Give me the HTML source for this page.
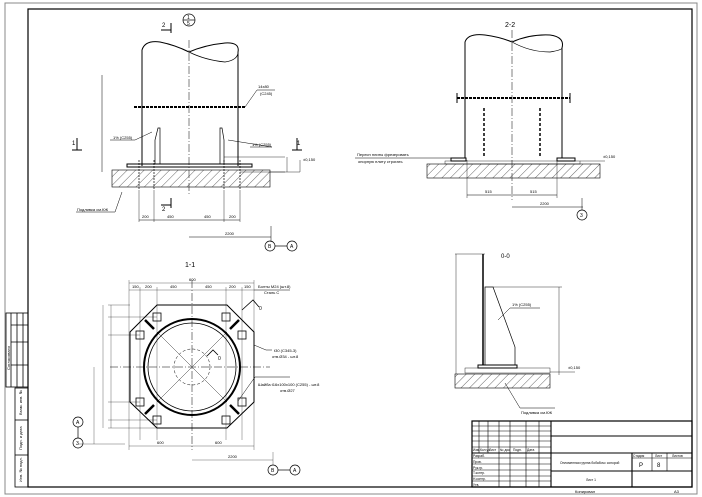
<!DOCTYPE html>
<html><head><meta charset="utf-8"><style>
html,body{margin:0;padding:0;background:#fff}
svg{display:block}
text{font-family:"Liberation Sans",sans-serif;fill:#000}
</style></head><body>
<svg width="702" height="497" viewBox="0 0 702 497" xmlns="http://www.w3.org/2000/svg">
<defs>
<pattern id="h" width="6" height="6" patternUnits="userSpaceOnUse" patternTransform="rotate(45)">
<line x1="0" y1="0" x2="0" y2="6" stroke="#000" stroke-width="0.6"/></pattern>
</defs>
<rect width="702" height="497" fill="#fff"/>
<!-- frames -->
<rect x="5" y="3" width="692" height="491" fill="none" stroke="#888" stroke-width="1"/>
<rect x="28" y="9" width="664" height="478" fill="none" stroke="#000" stroke-width="1.2"/>
<g stroke="#000" stroke-width="0.8" fill="none">
<rect x="6" y="313" width="22" height="74"/>
<line x1="11" y1="313" x2="11" y2="387"/><line x1="17" y1="313" x2="17" y2="387"/><line x1="23" y1="313" x2="23" y2="387"/>
<line x1="11" y1="325" x2="28" y2="325"/><line x1="11" y1="342" x2="28" y2="342"/><line x1="11" y1="365" x2="28" y2="365"/>
<rect x="15" y="388" width="13" height="99"/>
<line x1="15" y1="420" x2="28" y2="420"/><line x1="15" y1="455" x2="28" y2="455"/>
</g>
<g font-size="4">
<text transform="translate(10,370) rotate(-90)">Согласовано</text>
<text transform="translate(22,415) rotate(-90)">Взам. инв. №</text>
<text transform="translate(22,450) rotate(-90)">Подп. и дата</text>
<text transform="translate(22,482) rotate(-90)">Инв. № подл.</text>
</g>

<!-- ELEVATION -->
<g stroke="#000" fill="none" stroke-width="0.7">
<path d="M142,166 V50 Q145,40 160,42 Q175,45 189,52 Q205,45 225,43 Q240,42 238,52 V166" stroke-width="1"/>
<path d="M189,52 Q205,60 225,62 Q238,60 238,52"/>
<line x1="189" y1="40" x2="189" y2="195" stroke-dasharray="8,2,1,2" stroke-width="0.5"/>
<line x1="134" y1="107" x2="245" y2="107" stroke-width="2" stroke-dasharray="3,1"/>
<rect x="127" y="164" width="125" height="3" stroke-width="1"/>
<rect x="112" y="170" width="158" height="17" fill="url(#h)" stroke-width="0.6"/>
<path d="M155,164 V140 L158,128 L160,128 V164 Z"/>
<path d="M224,164 V140 L222,128 L220,128 V164 Z"/>
<g stroke-dasharray="2,1"><line x1="139" y1="160" x2="139" y2="190"/><line x1="154" y1="160" x2="154" y2="190"/><line x1="224" y1="160" x2="224" y2="190"/><line x1="240" y1="160" x2="240" y2="190"/></g>
<line x1="139" y1="190" x2="139" y2="222" stroke-width="0.4"/><line x1="154" y1="190" x2="154" y2="222" stroke-width="0.4"/>
<line x1="224" y1="190" x2="224" y2="222" stroke-width="0.4"/><line x1="240" y1="190" x2="240" y2="222" stroke-width="0.4"/>
<line x1="139" y1="220" x2="240" y2="220" stroke-width="0.5"/>
<line x1="189" y1="237" x2="271" y2="237" stroke-width="0.5"/>
<line x1="271" y1="226" x2="271" y2="242" stroke-width="0.5"/>
<line x1="102" y1="75" x2="102" y2="172" stroke-width="0.5"/>
<line x1="224" y1="157" x2="285" y2="157" stroke-width="0.4"/>
<line x1="240" y1="172" x2="285" y2="172" stroke-width="0.4"/>
<line x1="270" y1="172" x2="300" y2="172" stroke-width="0.4"/>
<line x1="287" y1="157" x2="287" y2="172" stroke-width="0.4"/>
<line x1="300" y1="160" x2="300" y2="172" stroke-width="0.4"/>
<path d="M245,107 L257,90 H275" stroke-width="0.5"/>
<path d="M110,140 H135 L152,132" stroke-width="0.5"/>
<path d="M250,147 H272 L228,140" stroke-width="0.5"/>
<path d="M76,212 H115 L122,192" stroke-width="0.5"/>
<path d="M72,150 H82 M77,138 V150 M292,150 H302 M297,138 V150 M161,30 H171 M171,23 V33 M161,205 H171 M171,198 V208" stroke-width="1"/>
<circle cx="189" cy="20" r="6"/><line x1="183" y1="20" x2="195" y2="20"/>
<circle cx="270" cy="246" r="5"/><circle cx="292" cy="246" r="5"/><line x1="275" y1="246" x2="287" y2="246"/>
</g>
<g font-size="4">
<text x="258" y="88">14x80</text><text x="260" y="95">(С245)</text>
<text x="113" y="139">1% (С255)</text><text x="252" y="146">1% (С255)</text>
<text x="77" y="211">Подливка см.КЖ</text>
<text x="142" y="218">200</text><text x="167" y="218">450</text><text x="204" y="218">450</text><text x="229" y="218">200</text>
<text x="225" y="235">2200</text>
<text x="303" y="161">±0,150</text>
</g>
<g font-size="6"><text x="162" y="27">2</text><text x="162" y="211">2</text><text x="72" y="145">1</text><text x="297" y="145">1</text>
<text x="187" y="19" font-size="5">1</text><text x="187" y="25" font-size="5">5</text>
<text x="268" y="248" font-size="5">B</text><text x="290" y="248" font-size="5">A</text></g>

<!-- SECTION 2-2 -->
<g stroke="#000" fill="none" stroke-width="0.7">
<path d="M465,158 V42 Q468,33 485,35 Q500,37 512,42 Q530,34 550,35 Q565,37 562,48 V158" stroke-width="1"/>
<path d="M512,42 Q530,52 550,52 Q562,50 562,48"/>
<line x1="512" y1="30" x2="512" y2="200" stroke-dasharray="8,2,1,2" stroke-width="0.5"/>
<line x1="457" y1="98" x2="570" y2="98" stroke-width="2" stroke-dasharray="3,1"/>
<line x1="457" y1="93" x2="457" y2="103" stroke-width="1"/><line x1="570" y1="93" x2="570" y2="103" stroke-width="1"/>
<line x1="484" y1="108" x2="484" y2="158" stroke-width="1.5" stroke-dasharray="3,2"/>
<line x1="540" y1="108" x2="540" y2="158" stroke-width="1.5" stroke-dasharray="3,2"/>
<rect x="451" y="158" width="15" height="3" stroke-width="1"/><rect x="557" y="158" width="18" height="3" stroke-width="1"/>
<rect x="445" y="161" width="135" height="3" stroke-width="0.4"/>
<rect x="427" y="164" width="173" height="14" fill="url(#h)" stroke-width="0.6"/>
<line x1="467" y1="160" x2="467" y2="198" stroke-width="0.4"/><line x1="557" y1="160" x2="557" y2="198" stroke-width="0.4"/>
<line x1="467" y1="195" x2="557" y2="195" stroke-width="0.5"/>
<line x1="512" y1="207" x2="583" y2="207" stroke-width="0.5"/><line x1="582" y1="198" x2="582" y2="210" stroke-width="0.5"/>
<circle cx="582" cy="215" r="5"/>
<line x1="355" y1="158" x2="452" y2="158" stroke-width="0.5"/>
<line x1="580" y1="161" x2="605" y2="161" stroke-width="0.4"/>
</g>
<g font-size="4">
<text x="357" y="156">Пересн плиты фрезеровать</text><text x="358" y="163">опорную плиту строгать</text>
<text x="485" y="193">515</text><text x="530" y="193">515</text><text x="540" y="205">2200</text>
<text x="580" y="217" font-size="5">3</text><text x="603" y="158">±0,150</text>
</g>
<text x="505" y="27" font-size="7">2-2</text>

<!-- SECTION 1-1 -->
<g stroke="#000" fill="none" stroke-width="0.7">
<path d="M157,305 H227 L254,332 V402 L227,428 H157 L130,402 V332 Z" stroke-width="1"/>
<circle cx="192" cy="367" r="48" stroke-width="2"/>
<circle cx="192" cy="367" r="44" stroke-width="0.8"/>
<circle cx="192" cy="367" r="18" stroke-dasharray="3,2" stroke-width="0.5"/>
<line x1="110" y1="367" x2="270" y2="367" stroke-dasharray="8,2,1,2" stroke-width="0.5"/>
<line x1="192" y1="280" x2="192" y2="450" stroke-dasharray="8,2,1,2" stroke-width="0.5"/>
<line x1="157" y1="332" x2="227" y2="402" stroke-width="0.4"/><line x1="227" y1="332" x2="157" y2="402" stroke-width="0.4"/>
<g stroke-width="2.5"><line x1="145" y1="320" x2="154" y2="329"/><line x1="239" y1="320" x2="230" y2="329"/><line x1="145" y1="414" x2="154" y2="405"/><line x1="239" y1="414" x2="230" y2="405"/></g>
<g stroke-width="0.8">
<rect x="153" y="313" width="8" height="8"/><rect x="222" y="313" width="8" height="8"/>
<rect x="136" y="331" width="8" height="8"/><rect x="238" y="331" width="8" height="8"/>
<rect x="136" y="398" width="8" height="8"/><rect x="238" y="398" width="8" height="8"/>
<rect x="153" y="416" width="8" height="8"/><rect x="222" y="416" width="8" height="8"/>
</g>
<g stroke-width="0.3">
<line x1="129" y1="283" x2="254" y2="283"/><line x1="129" y1="290" x2="254" y2="290"/>
<line x1="129" y1="280" x2="129" y2="450"/><line x1="254" y1="280" x2="254" y2="450"/>
<line x1="140" y1="287" x2="140" y2="440"/><line x1="157" y1="287" x2="157" y2="440"/><line x1="226" y1="287" x2="226" y2="440"/><line x1="242" y1="287" x2="242" y2="440"/>
<line x1="129" y1="446" x2="254" y2="446"/><line x1="192" y1="460" x2="273" y2="460"/><line x1="273" y1="452" x2="273" y2="465"/>
<line x1="108" y1="305" x2="130" y2="305"/><line x1="108" y1="317" x2="157" y2="317"/><line x1="108" y1="335" x2="140" y2="335"/>
<line x1="108" y1="402" x2="140" y2="402"/><line x1="108" y1="420" x2="157" y2="420"/><line x1="108" y1="428" x2="157" y2="428"/>
<line x1="111" y1="305" x2="111" y2="428"/><line x1="103" y1="305" x2="103" y2="428"/><line x1="94" y1="367" x2="94" y2="444"/>
<line x1="78" y1="444" x2="125" y2="444"/>
</g>
<path d="M254,345 L266,350 H272" stroke-width="0.5"/>
<path d="M238,401 L255,377 H290" stroke-width="0.5"/>
<path d="M254,290 H290" stroke-width="0.5"/>
<path d="M242,310 L253,300 L259,307" stroke-width="0.8"/>
<path d="M207,356 L213,350 L218,355" stroke-width="0.8"/>
<circle cx="78" cy="422" r="5"/><circle cx="78" cy="443" r="5"/><line x1="78" y1="427" x2="78" y2="438"/>
<circle cx="273" cy="470" r="5"/><circle cx="295" cy="470" r="5"/><line x1="278" y1="470" x2="290" y2="470"/>
</g>
<text x="185" y="267" font-size="7">1-1</text>
<g font-size="4">
<text x="189" y="281">600</text><text x="132" y="288">150</text><text x="145" y="288">200</text><text x="170" y="288">450</text><text x="205" y="288">450</text><text x="229" y="288">200</text><text x="244" y="288">150</text>
<text x="258" y="288">Болты М24 (шт.8)</text><text x="264" y="294">Сталь С</text>
<text x="274" y="352">t30 (С345-3)</text><text x="272" y="358">отв.Ø34 - шт.8</text>
<text x="258" y="386">Шайба t16x100x100 (С255) - шт.8</text><text x="280" y="392">отв.Ø27</text>
<text x="157" y="444">600</text><text x="215" y="444">600</text><text x="228" y="458">2200</text>
<text x="259" y="310" font-size="5">0</text><text x="218" y="360" font-size="5">0</text>
<text x="76" y="424" font-size="5">A</text><text x="76" y="445" font-size="5">3</text>
<text x="271" y="472" font-size="5">B</text><text x="293" y="472" font-size="5">A</text>
</g>

<!-- SECTION 0-0 -->
<g stroke="#000" fill="none" stroke-width="0.7">
<line x1="483" y1="254" x2="483" y2="365" stroke-width="1.5"/>
<path d="M485,287 H493 L515,347 V365 H485 Z"/>
<rect x="478" y="365" width="39" height="3" stroke-width="1"/>
<rect x="465" y="368" width="85" height="5" stroke-width="0.4"/>
<rect x="455" y="374" width="95" height="14" fill="url(#h)" stroke-width="0.6"/>
<line x1="455" y1="254" x2="485" y2="254" stroke-width="0.4"/>
<line x1="456" y1="254" x2="456" y2="374" stroke-width="0.4"/>
<line x1="493" y1="287" x2="562" y2="287" stroke-width="0.4"/>
<line x1="559" y1="287" x2="559" y2="375" stroke-width="0.4"/>
<path d="M498,320 L510,308 H540" stroke-width="0.5"/>
<path d="M505,383 L520,408 H555" stroke-width="0.5"/>
<line x1="550" y1="372" x2="575" y2="372" stroke-width="0.4"/>
</g>
<g font-size="4"><text x="512" y="306">1% (С255)</text><text x="521" y="414">Подливка см.КЖ</text><text x="568" y="369">±0,150</text></g>
<text x="501" y="258" font-size="6">0-0</text>

<!-- TITLE BLOCK -->
<g stroke="#000" fill="none">
<rect x="472" y="421" width="220" height="66" stroke-width="1.2"/>
<line x1="551" y1="421" x2="551" y2="487" stroke-width="1.1"/>
<g stroke-width="0.6">
<line x1="479" y1="421" x2="479" y2="453"/><line x1="488" y1="421" x2="488" y2="453"/><line x1="499" y1="421" x2="499" y2="487"/>
<line x1="510" y1="421" x2="510" y2="487"/><line x1="526" y1="421" x2="526" y2="487"/><line x1="539" y1="421" x2="539" y2="487"/>
<line x1="472" y1="426" x2="551" y2="426"/><line x1="472" y1="431" x2="551" y2="431"/><line x1="472" y1="436" x2="551" y2="436"/>
<line x1="472" y1="441" x2="551" y2="441"/><line x1="472" y1="447" x2="551" y2="447"/>
<line x1="472" y1="458" x2="551" y2="458"/><line x1="472" y1="464" x2="551" y2="464"/><line x1="472" y1="470" x2="551" y2="470"/><line x1="472" y1="476" x2="551" y2="476"/><line x1="472" y1="481" x2="551" y2="481"/>
</g>
<line x1="472" y1="453" x2="551" y2="453" stroke-width="1.1"/>
<line x1="551" y1="436" x2="692" y2="436" stroke-width="1.1"/>
<line x1="551" y1="453" x2="692" y2="453" stroke-width="1.1"/>
<line x1="551" y1="471" x2="632" y2="471" stroke-width="1.1"/>
<line x1="632" y1="453" x2="632" y2="487" stroke-width="1.1"/>
<line x1="632" y1="471" x2="692" y2="471" stroke-width="1.1"/>
<line x1="632" y1="458" x2="692" y2="458" stroke-width="0.6"/>
<line x1="652" y1="453" x2="652" y2="471" stroke-width="0.6"/>
<line x1="667" y1="453" x2="667" y2="471" stroke-width="0.6"/>
</g>
<g font-size="3.3">
<text x="473" y="451">Изм.</text><text x="480" y="451">Кол.уч</text><text x="489" y="451">Лист</text><text x="500" y="451">№ док</text><text x="513" y="451">Подп.</text><text x="527" y="451">Дата</text>
<text x="473" y="457">Разраб.</text><text x="473" y="463">Пров.</text><text x="473" y="469">Рук.гр.</text><text x="473" y="474">Т.контр.</text><text x="473" y="480">Н.контр.</text><text x="473" y="486">Утв.</text>
<text x="633" y="457">Стадия</text><text x="655" y="457">Лист</text><text x="672" y="457">Листов</text>
<text x="560" y="464">Опломенная группа бобабочс сопорой</text>
<text x="586" y="481">Лист 1</text>
</g>
<g font-size="6"><text x="639" y="467">Р</text><text x="657" y="467">8</text></g>
<g font-size="4"><text x="575" y="493">Копировал</text><text x="674" y="493">А3</text></g>
</svg>
</body></html>
